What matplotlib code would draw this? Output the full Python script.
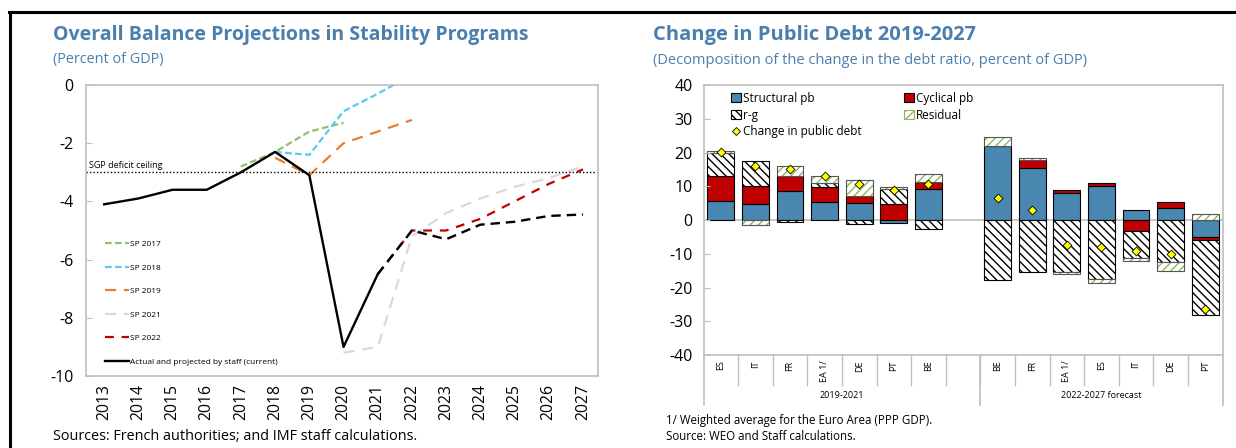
import matplotlib
matplotlib.use("Agg")
import matplotlib.pyplot as plt
import numpy as np
from matplotlib.lines import Line2D
from matplotlib.patches import Patch

plt.rcParams['font.family'] = ['Open Sans', 'DejaVu Sans']

TITLE_BLUE = '#4A7FAE'
GRAY = '#BFBFBF'

# ---- left chart data (percent of GDP) ----
years = list(range(2013, 2028))
actual_years = [2013, 2014, 2015, 2016, 2017, 2018, 2019, 2020, 2021]
actual = [-4.1, -3.9, -3.6, -3.6, -3.0, -2.3, -3.1, -9.0, -6.5]
staff_years = [2021, 2022, 2023, 2024, 2025, 2026, 2027]
staff_proj = [-6.5, -5.0, -5.3, -4.8, -4.7, -4.5, -4.45]
sp2017_years = [2017, 2018, 2019, 2020]
sp2017 = [-2.8, -2.3, -1.6, -1.3]
sp2018_years = [2018, 2019, 2020, 2021, 2022]
sp2018 = [-2.3, -2.4, -0.9, -0.3, 0.35]
sp2019_years = [2018, 2019, 2020, 2021, 2022]
sp2019 = [-2.5, -3.1, -2.0, -1.6, -1.2]
sp2021_years = [2020, 2021, 2022, 2023, 2024, 2025, 2026, 2027]
sp2021 = [-9.2, -9.0, -5.2, -4.4, -3.9, -3.5, -3.2, -2.8]
sp2022_years = [2021, 2022, 2023, 2024, 2025, 2026, 2027]
sp2022 = [-6.5, -5.0, -5.0, -4.6, -4.0, -3.4, -2.9]
sgp_ceiling = -3.0

# ---- right chart data (change in debt ratio, percent of GDP) ----
cats_hist = ['ES', 'IT', 'FR', 'EA 1/', 'DE', 'PT', 'BE']
cats_fcst = ['BE', 'FR', 'EA 1/', 'ES', 'IT', 'DE', 'PT']
structural = [5.6, 4.6, 8.6, 5.4, 5.0, -1.0, 9.3,
              21.9, 15.3, 7.9, 10.2, 3.1, 3.5, -5.1]
cyclical = [7.5, 5.5, 4.4, 4.3, 2.1, 4.6, 2.1,
            0.0, 2.5, 0.9, 0.7, -3.4, 1.7, -0.7]
r_g = [6.9, 7.4, -0.7, 1.2, -1.3, 4.5, -2.8,
       -17.9, -15.3, -15.3, -17.5, -7.8, -12.5, -22.2]
residual = [0.3, -1.4, 2.9, 2.1, 4.9, 0.8, 2.1,
            2.7, 0.7, -0.8, -1.3, -0.9, -2.7, 1.7]
debt_change = [20.2, 16.1, 15.1, 13.0, 10.8, 8.9, 10.7,
               6.6, 3.1, -7.3, -7.9, -9.1, -10.1, -26.5]

W, H = 1236, 448
fig = plt.figure(figsize=(W / 100, H / 100), dpi=100)

# frame lines at top and left of the picture
fig.add_artist(Line2D([9 / W, 1.0], [1 - 12.5 / H] * 2, color='black', lw=2.2))
fig.add_artist(Line2D([10 / W] * 2, [0, 1 - 12.5 / H], color='black', lw=2.2))

# ================= left chart =================
ax = fig.add_axes([86 / W, (H - 376) / H, (598 - 86) / W, 291 / H])

ax.plot(sp2017_years, sp2017, color='#93C06A', lw=1.6, dashes=(3, 1.5), label='SP 2017')
ax.plot(sp2018_years, sp2018, color='#5BC8F5', lw=1.6, dashes=(3, 1.5), label='SP 2018')
ax.plot(sp2019_years, sp2019, color='#E87D2E', lw=1.6, dashes=(5, 3.5), label='SP 2019')
ax.plot(sp2021_years, sp2021, color='#D9D9D9', lw=1.6, dashes=(5, 3.5), label='SP 2021')
ax.plot(sp2022_years, sp2022, color='#C00000', lw=1.6, dashes=(4, 3.5), label='SP 2022')
ax.plot(actual_years, actual, color='black', lw=1.7,
        label='Actual and projected by staff (current)')
ax.plot(staff_years, staff_proj, color='black', lw=1.7, dashes=(4, 2.5))

ax.axhline(sgp_ceiling, color='black', lw=1.0, ls=(0, (1, 1.5)))
ax.text(2012.55, sgp_ceiling + 0.08, 'SGP deficit ceiling', fontsize=6.5, va='bottom', ha='left')

ax.set_xlim(2012.47, 2027.44)
ax.set_ylim(-10, 0)
ax.set_yticks(np.arange(-10, 1, 2))
ax.set_yticklabels([str(v) for v in range(-10, 1, 2)], fontsize=11.5)
ax.set_xticks(years)
ax.set_xticklabels([str(y) for y in years], rotation=90, fontsize=11.3)
ax.tick_params(axis='x', length=0, pad=6)
ax.tick_params(axis='y', length=4, direction='in', color=GRAY, pad=9)
for s in ax.spines.values():
    s.set_color(GRAY)
    s.set_linewidth(1.2)

ax.legend(loc='upper left', bbox_to_anchor=(0.03, 0.478), frameon=False, fontsize=6,
          handlelength=2.9, handletextpad=0.1, labelspacing=1.88, borderaxespad=0)

fig.text(53 / W, 1 - 35 / H, 'Overall Balance Projections in Stability Programs',
         fontsize=14.0, fontweight='bold', color=TITLE_BLUE, va='center', ha='left')
fig.text(53 / W, 1 - 59 / H, '(Percent of GDP)', fontsize=10.4, color=TITLE_BLUE,
         va='center', ha='left')
fig.text(53 / W, 1 - 436 / H, 'Sources: French authorities; and IMF staff calculations.',
         fontsize=10.4, va='center', ha='left')

# ================= right chart =================
bx = fig.add_axes([703.5 / W, (H - 355) / H, (1222.5 - 703.5) / W, 270 / H])

x = np.array(list(range(7)) + list(range(8, 15)))
width = 0.77
pos_base = np.zeros(len(x))
neg_base = np.zeros(len(x))


def stack(vals, **kw):
    vals = np.array(vals)
    bottoms = np.where(vals >= 0, pos_base, neg_base)
    bx.bar(x, vals, width, bottom=bottoms, **kw)
    pos_base[:] += np.where(vals >= 0, vals, 0)
    neg_base[:] += np.where(vals < 0, vals, 0)
    return vals, bottoms


stack(structural, color='#4A87B0', edgecolor='black', lw=0.8)
stack(cyclical, color='#C00000', edgecolor='black', lw=0.8)
stack(r_g, color='white', edgecolor='black', lw=0.8, hatch='\\\\\\\\')
vals, bottoms = stack(residual, color='white', edgecolor='#8DB85E', lw=0, hatch='////')
bx.bar(x, vals, width, bottom=bottoms, facecolor='none', edgecolor='#555555', lw=0.8)
bx.scatter(x, debt_change, marker='D', s=20, color='#FFFF00', edgecolor='black',
           linewidths=0.6, zorder=5)

bx.axhline(0, color=GRAY, lw=1.2, zorder=0.5)
bx.set_xlim(-0.5, 14.5)
bx.set_ylim(-40, 40)
bx.set_yticks(np.arange(-40, 41, 10))
bx.set_yticklabels([str(v) for v in range(-40, 41, 10)], fontsize=11.5)
bx.tick_params(axis='y', length=4, direction='in', color=GRAY, pad=8)
bx.set_xticks(x)
bx.set_xticklabels(cats_hist + cats_fcst, rotation=90, fontsize=6.5, va='top')
bx.tick_params(axis='x', length=0, pad=4)
for s in bx.spines.values():
    s.set_color(GRAY)
    s.set_linewidth(1.2)

trans = bx.get_xaxis_transform()
for b in np.arange(0.5, 14, 1.0):
    bx.plot([b, b], [0, -0.111], color=GRAY, lw=1.0, transform=trans, clip_on=False)
for b in [-0.5, 7.5, 14.5]:
    bx.plot([b, b], [0, -0.185], color=GRAY, lw=1.2, transform=trans, clip_on=False)
bx.text(3.5, -0.15, '2019-2021', transform=trans, fontsize=6.5, ha='center', va='center')
bx.text(11, -0.15, '2022-2027 forecast', transform=trans, fontsize=6.5, ha='center', va='center')

handles = [
    Patch(facecolor='#4A87B0', edgecolor='black', lw=0.8),
    Patch(facecolor='white', edgecolor='black', lw=0.8, hatch='\\\\\\\\'),
    Line2D([], [], marker='D', ls='none', markersize=4.5, markerfacecolor='#FFFF00',
           markeredgecolor='black', markeredgewidth=0.6),
    Patch(facecolor='#C00000', edgecolor='black', lw=0.8),
    Patch(facecolor='white', edgecolor='#8DB85E', lw=0.8, hatch='////'),
]
labels = ['Structural pb', 'r-g', 'Change in public debt', 'Cyclical pb', 'Residual']
bx.legend(handles, labels, ncol=2, loc='upper left', bbox_to_anchor=(0.04, 1.0), frameon=False,
          fontsize=8.5, handlelength=0.8, handleheight=0.8, handletextpad=0.2,
          labelspacing=0.3, columnspacing=3.6, borderaxespad=0.2)

fig.text(653 / W, 1 - 35 / H, 'Change in Public Debt 2019-2027',
         fontsize=14.5, fontweight='bold', color=TITLE_BLUE, va='center', ha='left')
fig.text(653 / W, 1 - 60 / H,
         '(Decomposition of the change in the debt ratio, percent of GDP)',
         fontsize=10.5, color=TITLE_BLUE, va='center', ha='left')
fig.text(666 / W, 1 - 420 / H, '1/ Weighted average for the Euro Area (PPP GDP).',
         fontsize=8.3, va='center', ha='left')
fig.text(666 / W, 1 - 436 / H, 'Source: WEO and Staff calculations.',
         fontsize=8.3, va='center', ha='left')

fig.savefig('out.png', dpi=100)
